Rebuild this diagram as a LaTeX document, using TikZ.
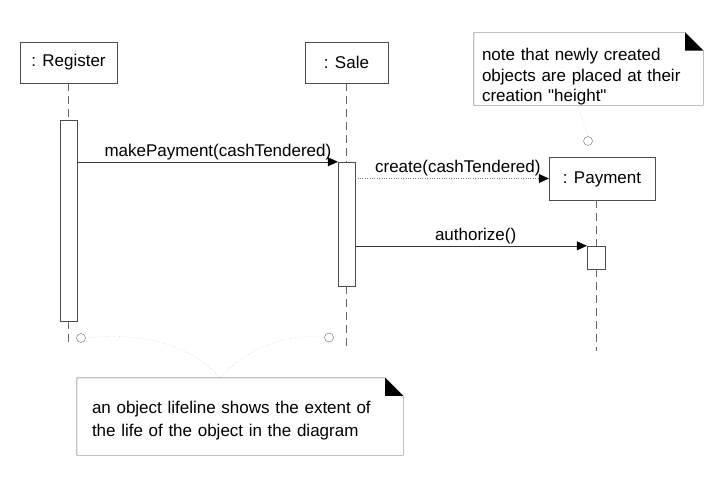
\documentclass[tikz,border=0pt]{standalone}
\usepackage{fontspec}
\setmainfont{Liberation Sans}[Ligatures=TeXOff]
\usetikzlibrary{positioning, arrows.meta, calc}

\begin{document}
\begin{tikzpicture}[
  x=1pt, y=-1pt,
  obj/.style={draw=black!70, minimum height=41pt, inner sep=0pt, font=\fontsize{17}{21}\selectfont},
  act/.style={draw=black!70, fill=white, minimum width=17pt, inner sep=0pt},
  life/.style={black!60, dash pattern=on 8pt off 5pt},
  msg/.style={-{Triangle[length=10pt, width=9pt, black]}, black!80},
  lbl/.style={font=\fontsize{17}{21}\selectfont, text=black, inner sep=2pt},
  note/.style={align=left, inner ysep=0pt, text=black},
  conn/.style={black!35, dotted},
  pin/.style={circle, draw=black!60, minimum size=9pt, inner sep=0pt}
]
  \useasboundingbox (0,0) rectangle (727,479);

  % objects
  \node[obj, minimum width=97pt] (reg) at (68.5,62.5) {: Register};
  \node[obj, minimum width=83pt] (sale) at (346.5,62.5) {: Sale};
  \node[obj, minimum width=106pt, minimum height=43pt, text depth=1pt] (pay) at (602,178.5) {: Payment};

  % activations
  \node[act, minimum height=201pt] (regact) at (68.5,220.5) {};
  \node[act, minimum height=124pt] (saleact) at (346.5,224) {};
  \node[act, minimum width=18pt, minimum height=23pt] (payact) at (596,257.5) {};

  \coordinate (regend) at (68.5,346);
  \coordinate (saleend) at (346.5,346);
  \coordinate (payend) at (596,351);

  % lifelines
  \draw[life] (reg.south) -- (regact.north);
  \draw[life] (regact.south) -- (regend);
  \draw[life] (sale.south) -- (saleact.north);
  \draw[life] (saleact.south) -- (saleend);
  \draw[life] (payact.north |- pay.south) -- (payact.north);
  \draw[life] (payact.south) -- (payend);

  % messages
  \draw[msg] (regact.east |- saleact.north) -- node[lbl, above, pos=0.54] {makePayment(cashTendered)} (saleact.north west);
  \draw[msg, dotted, black!55] (saleact.east |- pay.west) -- node[lbl, above, pos=0.53] {create(cashTendered)} (pay.west);
  \draw[msg] (saleact.east |- payact.north) -- node[lbl, above, pos=0.52] {authorize()} (payact.north west);

  % notes
  \node[note, text width=213pt, inner xsep=8pt, minimum height=66pt, font=\fontsize{17}{20.5}\selectfont] (topnote) at (588.5,69)
    {\rule{0pt}{28pt}note that newly created\\objects are placed at their\\creation "height"};
  \node[note, text width=296pt, inner xsep=15pt, minimum height=77pt, font=\fontsize{17}{23}\selectfont] (botnote) at (240,416.5)
    {\rule{0pt}{21pt}an object lifeline shows the extent of\\the life of the object in the diagram};
  \foreach \n in {topnote, botnote} {
    \draw[black!70] (\n.north west) -- ($(\n.north east)+(-18pt,0)$) -- ($(\n.north east)+(0,-18pt)$)
      -- (\n.south east) -- (\n.south west) -- cycle;
    \fill[black] ($(\n.north east)+(-18pt,0)$) -- ($(\n.north east)+(-18pt,-18pt)$) -- ($(\n.north east)+(0,-18pt)$) -- cycle;
  }

  % note connectors
  \node[pin] (pintop) at (588,141) {};
  \node[pin] (pinreg) at (81,338) {};
  \node[pin] (pinsale) at (329,337.5) {};
  \coordinate (tip) at ($(botnote.north)+(-20pt,0)$);
  \draw[conn] ($(topnote.south)+(-11pt,0)$) -- (pintop.north);
  \draw[conn] (pinreg.east) .. controls (160,330) and (200,355) .. (tip);
  \draw[conn] (pinsale.west) .. controls (280,332) and (240,355) .. (tip);
\end{tikzpicture}
\end{document}
